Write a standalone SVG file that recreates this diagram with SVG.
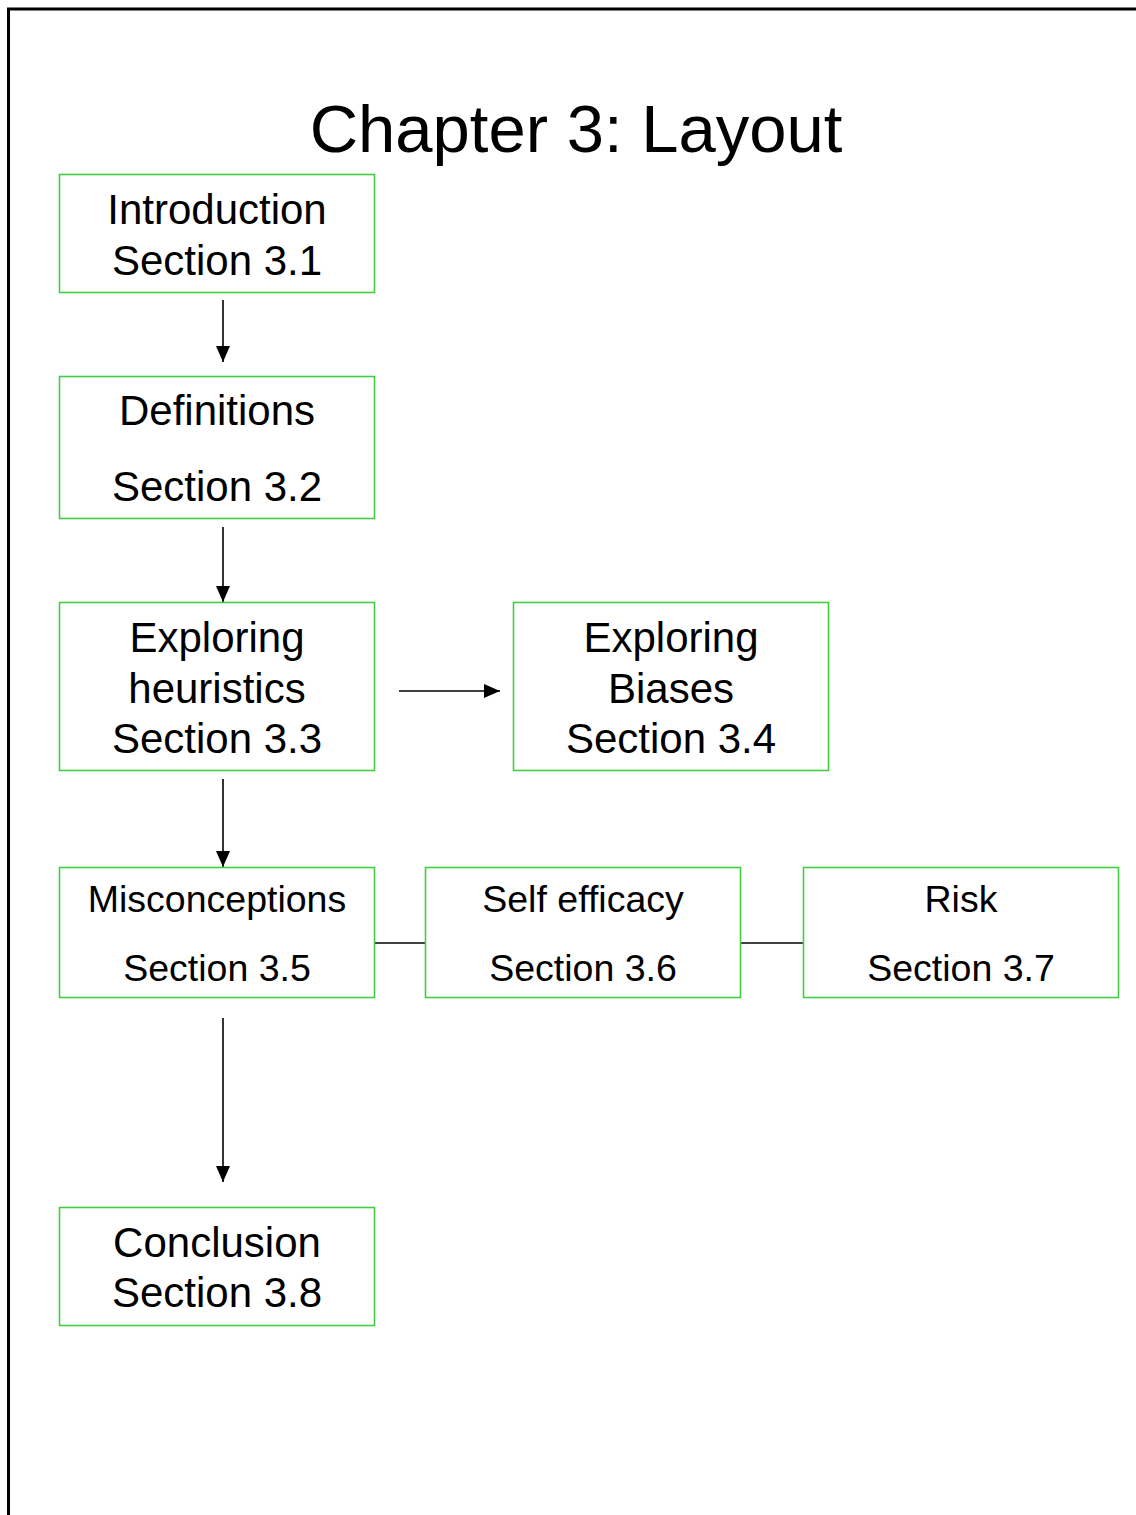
<svg xmlns="http://www.w3.org/2000/svg" width="1136" height="1515" viewBox="0 0 1136 1515">
<style>
.box{fill:#fff;stroke:#44cc44;stroke-width:1.6}
.t{font-family:"Liberation Sans",Arial,sans-serif;font-size:42px;fill:#000;text-anchor:middle}
.s{font-size:37.5px}
.ln{stroke:#000;stroke-width:1.6;fill:none}
</style>
<defs>
<marker id="ah2" viewBox="0 0 16 16" refX="16" refY="8" markerWidth="16" markerHeight="16" markerUnits="userSpaceOnUse" orient="auto">
<path d="M0,1 L16,8 L0,15 Z" fill="#000"/>
</marker>
</defs>
<rect width="1136" height="1515" fill="#fff"/>
<path d="M8.5,1515 V9 H1136" stroke="#000" stroke-width="3" fill="none"/>
<text class="t" x="576" y="152" style="font-size:67px">Chapter 3: Layout</text>
<g id="connectors">
<line class="ln" x1="223" y1="300" x2="223" y2="362" marker-end="url(#ah2)"/>
<line class="ln" x1="223" y1="527" x2="223" y2="602" marker-end="url(#ah2)"/>
<line class="ln" x1="223" y1="779" x2="223" y2="867" marker-end="url(#ah2)"/>
<line class="ln" x1="223" y1="1018" x2="223" y2="1182" marker-end="url(#ah2)"/>
<line class="ln" x1="399" y1="691" x2="500" y2="691" marker-end="url(#ah2)"/>
<line class="ln" x1="375" y1="943" x2="425" y2="943"/>
<line class="ln" x1="740" y1="943" x2="803" y2="943"/>
</g>
<g id="intro">
<rect class="box" x="59.5" y="174.5" width="315" height="118"/>
<text class="t" x="217" y="224">Introduction</text>
<text class="t" x="217" y="275">Section 3.1</text>
</g>
<g id="definitions">
<rect class="box" x="59.5" y="376.5" width="315" height="142"/>
<text class="t" x="217" y="425">Definitions</text>
<text class="t" x="217" y="501">Section 3.2</text>
</g>
<g id="heuristics">
<rect class="box" x="59.5" y="602.5" width="315" height="168"/>
<text class="t" x="217" y="652">Exploring</text>
<text class="t" x="217" y="703">heuristics</text>
<text class="t" x="217" y="753">Section 3.3</text>
</g>
<g id="biases">
<rect class="box" x="513.5" y="602.5" width="315" height="168"/>
<text class="t" x="671" y="652">Exploring</text>
<text class="t" x="671" y="703">Biases</text>
<text class="t" x="671" y="753">Section 3.4</text>
</g>
<g id="misconceptions">
<rect class="box" x="59.5" y="867.5" width="315" height="130"/>
<text class="t s" x="217" y="912">Misconceptions</text>
<text class="t s" x="217" y="981">Section 3.5</text>
</g>
<g id="selfefficacy">
<rect class="box" x="425.5" y="867.5" width="315" height="130"/>
<text class="t s" x="583" y="912">Self efficacy</text>
<text class="t s" x="583" y="981">Section 3.6</text>
</g>
<g id="risk">
<rect class="box" x="803.5" y="867.5" width="315" height="130"/>
<text class="t s" x="961" y="912">Risk</text>
<text class="t s" x="961" y="981">Section 3.7</text>
</g>
<g id="conclusion">
<rect class="box" x="59.5" y="1207.5" width="315" height="118"/>
<text class="t" x="217" y="1257">Conclusion</text>
<text class="t" x="217" y="1307">Section 3.8</text>
</g>
</svg>
